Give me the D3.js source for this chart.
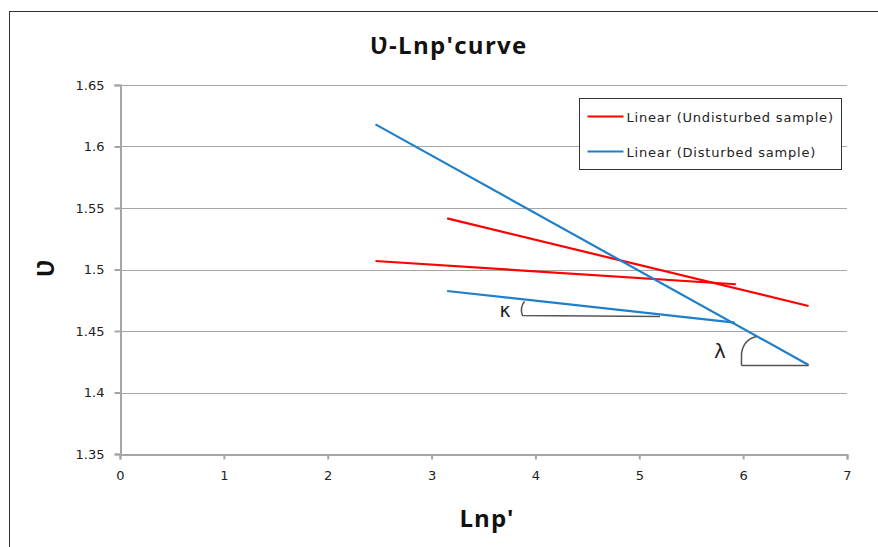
<!DOCTYPE html>
<html>
<head>
<meta charset="utf-8">
<script src="https://cdn.jsdelivr.net/npm/d3@7"></script>
<style>
  body { margin: 0; background: #fff; }
  svg { display: block; }
</style>
</head>
<body>
<div id="chart"></div>
<script>
// trend line end points
const seriesNames = ["Linear (Undisturbed sample)", "Linear (Disturbed sample)"];
const seriesColors = ["#ff0000", "#1f7fc8"];
const undisturbedUpper = [[3.15, 1.5416], [6.63, 1.4703]];
const undisturbedLower = [[2.46, 1.5069], [5.93, 1.4880]];
const disturbedSteep = [[2.46, 1.6180], [6.63, 1.4224]];
const disturbedShallow = [[3.15, 1.4825], [5.92, 1.4568]];
const xTicks = [0, 1, 2, 3, 4, 5, 6, 7];
const yTicks = [1.35, 1.4, 1.45, 1.5, 1.55, 1.6, 1.65];

const width = 878, height = 547;
const margin = { left: 120, right: 31, top: 85, bottom: 93 };

const svg = d3.select("#chart").append("svg").attr("width", width).attr("height", height);

// outer chart frame
svg.append("rect")
    .attr("x", 9.5).attr("y", 11.5)
    .attr("width", 900).attr("height", 600)
    .attr("fill", "none").attr("stroke", "#333").attr("stroke-width", 1);

const x = d3.scaleLinear().domain([0, 7]).range([margin.left, width - margin.right]);
const y = d3.scaleLinear().domain([1.35, 1.65]).range([height - margin.bottom, margin.top]);

// horizontal grid
svg.append("g")
    .selectAll("line")
    .data(yTicks.slice(1))
    .join("line")
    .attr("x1", x(0)).attr("x2", x(7))
    .attr("y1", (d) => Math.round(y(d)) + 0.5).attr("y2", (d) => Math.round(y(d)) + 0.5)
    .attr("stroke", "#a6a6a6").attr("stroke-width", 1);

// axes
const xAxis = svg.append("g")
    .attr("transform", `translate(0, ${Math.round(y(1.35)) + 0.5})`)
    .call(d3.axisBottom(x).tickValues(xTicks).tickSize(5).tickPadding(11).tickFormat(d3.format("d")));
const yAxis = svg.append("g")
    .attr("transform", `translate(${Math.round(x(0)) + 0.5}, 0)`)
    .call(d3.axisLeft(y).tickValues(yTicks).tickSize(6).tickPadding(10).tickFormat((d) => String(+d.toFixed(2))));
[xAxis, yAxis].forEach((a) => {
    a.attr("font-family", "DejaVu Sans, sans-serif").attr("font-size", 13);
    a.selectAll(".tick text").attr("fill", "#222");
    a.select(".domain").attr("stroke", "#a6a6a6").attr("stroke-width", 2);
    a.selectAll(".tick line").attr("stroke", "#a6a6a6").attr("stroke-width", 2);
});

// trend lines
const line = d3.line().x((d) => x(d[0])).y((d) => y(d[1]));
const lines = [
    { pts: undisturbedUpper, c: seriesColors[0] },
    { pts: undisturbedLower, c: seriesColors[0] },
    { pts: disturbedSteep, c: seriesColors[1] },
    { pts: disturbedShallow, c: seriesColors[1] },
];
svg.append("g")
    .selectAll("path")
    .data(lines)
    .join("path")
    .attr("d", (d) => line(d.pts))
    .attr("fill", "none")
    .attr("stroke", (d) => d.c)
    .attr("stroke-width", 2.2);

// slope markers (kappa and lambda)
const kx0 = 522.5, ky = 315.5;
svg.append("path")
    .attr("d", `M${kx0 + 2},${ky - 14} Q${kx0 - 3},${ky - 8} ${kx0},${ky} L660,${ky + 1}`)
    .attr("fill", "none").attr("stroke", "#555").attr("stroke-width", 1.5);
svg.append("text").attr("x", 505).attr("y", 317).attr("text-anchor", "middle")
    .attr("font-family", "DejaVu Sans, sans-serif").attr("font-size", 19).attr("fill", "#222").text("κ");

const lx0 = 741.5, ly = 365.5;
svg.append("path")
    .attr("d", `M${lx0},${ly} L${lx0},${ly - 12} Q${lx0 + 2},${ly - 26} ${lx0 + 15},${ly - 29} M${lx0},${ly} L${x(6.63)},${ly}`)
    .attr("fill", "none").attr("stroke", "#555").attr("stroke-width", 1.5);
svg.append("text").attr("x", 720).attr("y", 358).attr("text-anchor", "middle")
    .attr("font-family", "DejaVu Sans, sans-serif").attr("font-size", 20).attr("fill", "#222").text("λ");

// title and axis titles
svg.append("text").attr("x", 449).attr("y", 54).attr("text-anchor", "middle")
    .attr("font-family", "Open Sans, sans-serif").attr("font-weight", "bold").attr("font-size", 24)
    .attr("letter-spacing", 1.3).attr("fill", "#111").text("Ʋ-Lnp'curve");
svg.append("text").attr("x", 487).attr("y", 527).attr("text-anchor", "middle")
    .attr("font-family", "Open Sans, sans-serif").attr("font-weight", "bold").attr("font-size", 24)
    .attr("letter-spacing", 1).attr("fill", "#111").text("Lnp'");
svg.append("text").attr("transform", "translate(54, 268) rotate(-90)").attr("text-anchor", "middle")
    .attr("font-family", "Open Sans, sans-serif").attr("font-weight", "bold").attr("font-size", 24)
    .attr("fill", "#111").text("Ʋ");

// legend
const lg = svg.append("g").attr("transform", "translate(579.5, 98.5)");
lg.append("rect").attr("width", 262).attr("height", 71)
    .attr("fill", "#fff").attr("stroke", "#333").attr("stroke-width", 1);
const items = lg.selectAll("g").data(seriesNames).join("g")
    .attr("transform", (d, i) => `translate(0, ${18 + i * 35})`);
items.append("line").attr("x1", 8).attr("x2", 44)
    .attr("stroke", (d, i) => seriesColors[i]).attr("stroke-width", 2.2);
items.append("text").attr("x", 47).attr("y", 5)
    .attr("font-family", "DejaVu Sans, sans-serif").attr("font-size", 13).attr("letter-spacing", 0.8)
    .attr("fill", "#222").text((d) => d);
</script>
</body>
</html>
